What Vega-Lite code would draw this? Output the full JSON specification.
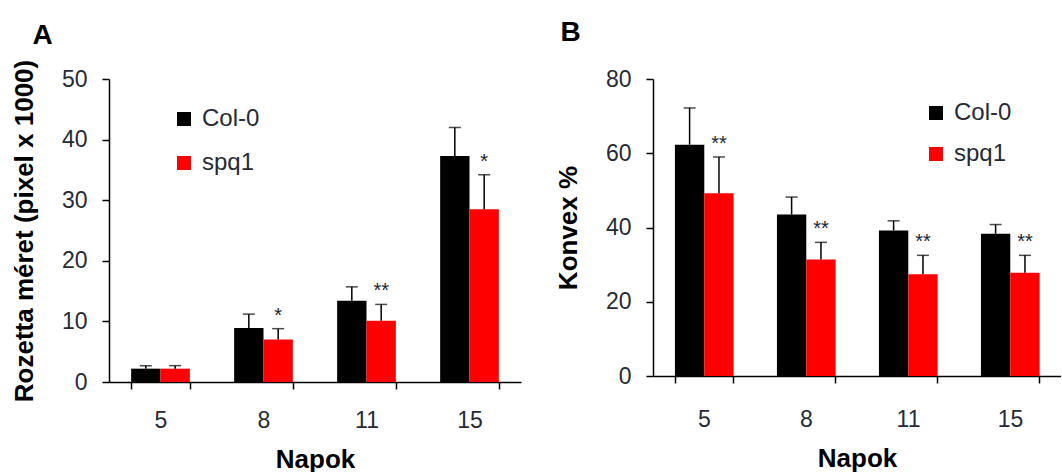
{
  "$schema": "https://vega.github.io/schema/vega-lite/v6.json",
  "padding": {"left": 11, "top": 19, "right": 0, "bottom": 0},
  "spacing": 34,
  "datasets": {
    "rozetta": [
      {"day": 5, "genotype": "Col-0", "value": 2.2, "err": 2.7, "sig": ""},
      {"day": 5, "genotype": "spq1", "value": 2.2, "err": 2.7, "sig": ""},
      {"day": 8, "genotype": "Col-0", "value": 8.9, "err": 11.2, "sig": ""},
      {"day": 8, "genotype": "spq1", "value": 7.0, "err": 8.8, "sig": "*"},
      {"day": 11, "genotype": "Col-0", "value": 13.4, "err": 15.7, "sig": ""},
      {"day": 11, "genotype": "spq1", "value": 10.1, "err": 12.8, "sig": "**"},
      {"day": 15, "genotype": "Col-0", "value": 37.3, "err": 42.0, "sig": ""},
      {"day": 15, "genotype": "spq1", "value": 28.5, "err": 34.2, "sig": "*"}
    ],
    "konvex": [
      {"day": 5, "genotype": "Col-0", "value": 62.3, "err": 72.2, "sig": ""},
      {"day": 5, "genotype": "spq1", "value": 49.2, "err": 59.0, "sig": "**"},
      {"day": 8, "genotype": "Col-0", "value": 43.5, "err": 48.2, "sig": ""},
      {"day": 8, "genotype": "spq1", "value": 31.4, "err": 36.0, "sig": "**"},
      {"day": 11, "genotype": "Col-0", "value": 39.2, "err": 41.8, "sig": ""},
      {"day": 11, "genotype": "spq1", "value": 27.4, "err": 32.5, "sig": "**"},
      {"day": 15, "genotype": "Col-0", "value": 38.3, "err": 40.8, "sig": ""},
      {"day": 15, "genotype": "spq1", "value": 27.8, "err": 32.5, "sig": "**"}
    ]
  },
  "config": {
    "font": "Liberation Sans",
    "view": {"stroke": null},
    "axis": {
      "domainColor": "black", "tickColor": "black", "domainWidth": 1.5, "tickWidth": 1.5, "tickSize": 7,
      "labelFont": "Liberation Sans", "labelFontSize": 23, "labelColor": "#262b35",
      "titleFont": "Liberation Sans", "titleFontSize": 26, "titleFontWeight": "bold", "titleColor": "black",
      "grid": false
    },
    "legend": {
      "orient": "none", "title": null, "symbolType": "square", "symbolSize": 196, "symbolStrokeWidth": 0,
      "symbolOpacity": 1, "labelFont": "Liberation Sans", "labelFontSize": 24, "labelColor": "#262b35",
      "labelOffset": 6, "padding": 0
    },
    "title": {"font": "Liberation Sans", "fontSize": 28, "fontWeight": "bold", "anchor": "start", "frame": "bounds", "color": "black"}
  },
  "resolve": {"legend": {"color": "independent"}},
  "hconcat": [
    {
      "title": {"text": "A", "dx": 21, "offset": 9},
      "width": 412,
      "height": 303,
      "data": {"name": "rozetta"},
      "encoding": {
        "x": {"field": "day", "type": "ordinal", "title": "Napok",
          "scale": {"paddingInner": 0.43, "paddingOuter": 0.215},
          "axis": {"labelAngle": 0, "tickBand": "extent", "labelPadding": 20, "titlePadding": 14}},
        "xOffset": {"field": "genotype", "type": "nominal", "sort": ["Col-0", "spq1"], "scale": {"paddingInner": 0, "paddingOuter": 0}}
      },
      "layer": [
        {"mark": {"type": "bar"},
          "encoding": {
            "y": {"field": "value", "type": "quantitative", "scale": {"domain": [0, 50]}, "title": "Rozetta méret (pixel x 1000)",
              "axis": {"values": [0, 10, 20, 30, 40, 50], "labelPadding": 15, "titlePadding": 24}},
            "color": {"field": "genotype", "type": "nominal", "scale": {"domain": ["Col-0", "spq1"], "range": ["#000000", "#ff0000"]},
              "legend": {"legendX": 63, "legendY": 28, "rowPadding": 20}}
          }},
        {"mark": {"type": "rule", "color": "black", "strokeWidth": 1.5},
          "encoding": {"y": {"field": "value", "type": "quantitative", "title": "Rozetta méret (pixel x 1000)"}, "y2": {"field": "err"}}},
        {"mark": {"type": "tick", "color": "black", "size": 12, "thickness": 1.5},
          "encoding": {"y": {"field": "err", "type": "quantitative", "title": "Rozetta méret (pixel x 1000)"}}},
        {"mark": {"type": "text", "baseline": "middle", "dy": -13, "fontSize": 20, "color": "#1f2633"},
          "encoding": {"y": {"field": "err", "type": "quantitative", "title": "Rozetta méret (pixel x 1000)"}, "text": {"field": "sig"}}}
      ]
    },
    {
      "title": {"text": "B", "dx": 5, "offset": 9, "dy": -12},
      "width": 408,
      "height": 297,
      "data": {"name": "konvex"},
      "encoding": {
        "x": {"field": "day", "type": "ordinal", "title": "Napok",
          "scale": {"paddingInner": 0.43, "paddingOuter": 0.215},
          "axis": {"labelAngle": 0, "tickBand": "extent", "labelPadding": 25, "titlePadding": 14}},
        "xOffset": {"field": "genotype", "type": "nominal", "sort": ["Col-0", "spq1"], "scale": {"paddingInner": 0, "paddingOuter": 0}}
      },
      "layer": [
        {"mark": {"type": "bar"},
          "encoding": {
            "y": {"field": "value", "type": "quantitative", "scale": {"domain": [0, 80]}, "title": "Konvex %",
              "axis": {"values": [0, 20, 40, 60, 80], "labelPadding": 15, "titlePadding": 24}},
            "color": {"field": "genotype", "type": "nominal", "scale": {"domain": ["Col-0", "spq1"], "range": ["#000000", "#ff0000"]},
              "legend": {"legendX": 271, "legendY": 22, "rowPadding": 17}}
          }},
        {"mark": {"type": "rule", "color": "black", "strokeWidth": 1.5},
          "encoding": {"y": {"field": "value", "type": "quantitative", "title": "Konvex %"}, "y2": {"field": "err"}}},
        {"mark": {"type": "tick", "color": "black", "size": 12, "thickness": 1.5},
          "encoding": {"y": {"field": "err", "type": "quantitative", "title": "Konvex %"}}},
        {"mark": {"type": "text", "baseline": "middle", "dy": -13, "fontSize": 20, "color": "#1f2633"},
          "encoding": {"y": {"field": "err", "type": "quantitative", "title": "Konvex %"}, "text": {"field": "sig"}}}
      ]
    }
  ]
}
